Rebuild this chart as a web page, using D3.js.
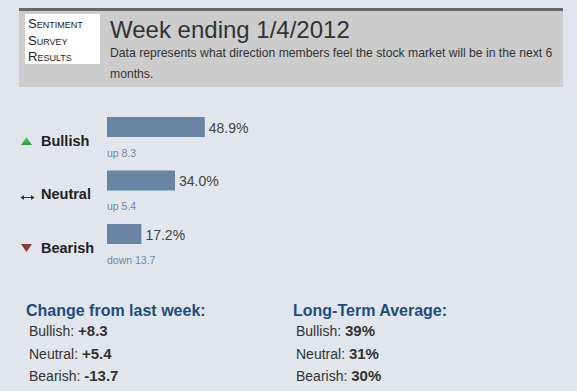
<!DOCTYPE html>
<html>
<head>
<meta charset="utf-8">
<script src="https://cdn.jsdelivr.net/npm/d3@7"></script>
<style>
  html, body { margin: 0; padding: 0; background: #e1e6ed; }
  svg { display: block; }
  text { font-family: Arial, "Liberation Sans", sans-serif; }
</style>
</head>
<body>
<div id="chart"></div>
<script>
// ---- data ----
const categories = ["Bullish", "Neutral", "Bearish"];
const values = [48.9, 34.0, 17.2];
const changes = [8.3, 5.4, -13.7];
const averages = [39, 31, 30];
const directionTexts = ["up 8.3", "up 5.4", "down 13.7"];
const changeLabels = ["+8.3", "+5.4", "-13.7"];
const averageLabels = ["39%", "31%", "30%"];
const titleText = "Week ending 1/4/2012";
const subtitleLines = ["Data represents what direction members feel the stock market will be in the next 6", "months."];
const boxLines = ["Sentiment", "Survey", "Results"];

const W = 577, H = 391;
const svg = d3.select("#chart").append("svg").attr("width", W).attr("height", H);
svg.append("rect").attr("width", W).attr("height", H).attr("fill", "#e1e6ed");

// ---- header ----
svg.append("rect").attr("x", 19).attr("y", 8).attr("width", 544).attr("height", 79).attr("fill", "#cccccc");
svg.append("rect").attr("x", 19).attr("y", 8).attr("width", 544).attr("height", 3).attr("fill", "#666666");
svg.append("rect").attr("x", 25).attr("y", 14).attr("width", 75).attr("height", 50).attr("fill", "#ffffff");
svg.selectAll("text.box").data(boxLines).enter().append("text")
  .attr("class", "box")
  .attr("x", 28).attr("y", (d, i) => 28 + i * 16.5)
  .attr("font-size", 13).attr("font-variant", "small-caps").attr("fill", "#222")
  .text(d => d);
svg.append("text").attr("x", 110).attr("y", 38).attr("font-size", 24).attr("fill", "#333")
  .text(titleText);
svg.selectAll("text.sub").data(subtitleLines).enter().append("text")
  .attr("class", "sub")
  .attr("x", 110).attr("y", (d, i) => 57 + i * 21)
  .attr("font-size", 12.2).attr("fill", "#333")
  .text(d => d);

// ---- bars ----
const x = d3.scaleLinear().domain([0, 100]).range([0, 200]);
const y = d3.scaleBand().domain(categories).range([117, 244]).paddingInner(0.626).paddingOuter(0);
const barX = 107;

const rows = svg.selectAll("g.row").data(categories).enter().append("g").attr("class", "row");
rows.append("rect")
  .attr("x", barX).attr("y", d => y(d))
  .attr("width", (d, i) => x(values[i]))
  .attr("height", y.bandwidth())
  .attr("fill", "#6b84a4");
rows.append("text")
  .attr("x", (d, i) => barX + x(values[i]) + 4)
  .attr("y", d => y(d) + 16)
  .attr("font-size", 14).attr("fill", "#444")
  .text((d, i) => values[i].toFixed(1) + "%");
rows.append("text")
  .attr("x", barX)
  .attr("y", d => y(d) + 40)
  .attr("font-size", 10.5).attr("fill", "#6f86a8")
  .text((d, i) => directionTexts[i]);
rows.append("text")
  .attr("x", 41)
  .attr("y", d => y(d) + 29)
  .attr("font-size", 14.5).attr("font-weight", "bold").attr("fill", "#222")
  .text(d => d);

// icons
const iconY = d => y(d) + 24;
const grad = svg.append("defs").append("linearGradient").attr("id", "g1").attr("x1", 0).attr("y1", 0).attr("x2", 0).attr("y2", 1);
grad.append("stop").attr("offset", "0%").attr("stop-color", "#5fd47a");
grad.append("stop").attr("offset", "100%").attr("stop-color", "#1f9a3c");
rows.filter((d, i) => changes[i] > 0 && i === 0).append("path")
  .attr("d", d => `M21,${iconY(d) + 4}L26.5,${iconY(d) - 4}L32,${iconY(d) + 4}Z`)
  .attr("fill", "url(#g1)");
rows.filter((d, i) => i === 1).each(function (d) {
  const g = d3.select(this), cy = iconY(d) + 3;
  g.append("line").attr("x1", 21).attr("x2", 34).attr("y1", cy).attr("y2", cy).attr("stroke", "#333").attr("stroke-width", 1);
  g.append("path").attr("d", `M20.5,${cy}L24,${cy - 2.5}L24,${cy + 2.5}Z`).attr("fill", "#333");
  g.append("path").attr("d", `M34.5,${cy}L31,${cy - 2.5}L31,${cy + 2.5}Z`).attr("fill", "#333");
});
rows.filter((d, i) => changes[i] < 0).append("path")
  .attr("d", d => `M21,${iconY(d) - 4}L26.5,${iconY(d) + 4}L32,${iconY(d) - 4}Z`)
  .attr("fill", "#8e3b36");

// ---- bottom summaries ----
function summary(x0, heading, labels) {
  svg.append("text").attr("x", x0).attr("y", 316)
    .attr("font-size", 16).attr("font-weight", "bold").attr("fill", "#1d4d7c").text(heading);
  const t = svg.selectAll(null).data(categories).enter().append("text")
    .attr("x", x0 + 3).attr("y", (d, i) => 336 + i * 22.5)
    .attr("font-size", 14).attr("fill", "#333");
  t.append("tspan").text(d => d + ": ");
  t.append("tspan").attr("font-weight", "bold").attr("font-size", 15).text((d, i) => labels[i]);
}
summary(26, "Change from last week:", changeLabels);
summary(293, "Long-Term Average:", averageLabels);
</script>
</body>
</html>
